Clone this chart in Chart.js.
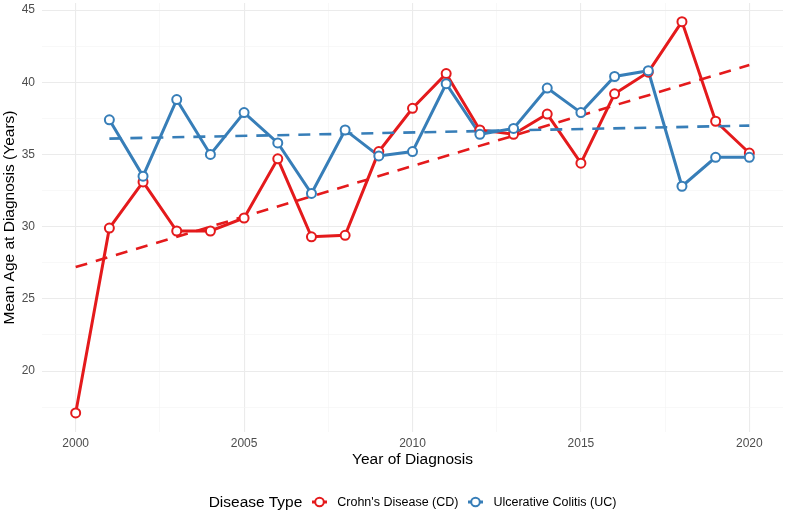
<!DOCTYPE html>
<html>
<head>
<meta charset="utf-8">
<script src="https://cdn.jsdelivr.net/npm/chart.js@4.4.1/dist/chart.umd.min.js"></script>
<style>
  body { margin: 0; background: #fff; font-family: "Liberation Sans", Arial, sans-serif; }
  #wrap { position: relative; width: 786px; height: 514px; }
  #legend {
    position: absolute; left: 39px; right: 0; top: 491px; height: 22px;
    display: flex; justify-content: center; align-items: center;
    color: #000; white-space: nowrap;
  }
  #legend .title { font-size: 15.5px; margin-right: 10px; }
  #legend .item { display: flex; align-items: center; font-size: 12.5px; margin-right: 10px; }
  #legend .item:last-child { margin-right: 0; }
  #legend svg { margin-right: 10px; }
</style>
</head>
<body>
<div id="wrap">
  <canvas id="chart" width="786" height="514"></canvas>
  <div id="legend"></div>
</div>
<script>
// data
const years = [2000, 2001, 2002, 2003, 2004, 2005, 2006, 2007, 2008, 2009, 2010,
               2011, 2012, 2013, 2014, 2015, 2016, 2017, 2018, 2019, 2020];
const cdAge = [17.1, 29.9, 33.1, 29.7, 29.7, 30.6, 34.7, 29.3, 29.4, 35.2, 38.2,
               40.6, 36.7, 36.4, 37.8, 34.4, 39.2, 40.7, 44.2, 37.3, 35.1];
const ucAge = [null, 37.4, 33.5, 38.8, 35.0, 37.9, 35.8, 32.3, 36.7, 34.9, 35.2,
               39.9, 36.4, 36.8, 39.6, 37.9, 40.4, 40.8, 32.8, 34.8, 34.8];

// dashed linear trend endpoints
const cdTrendYears = [2000, 2020];
const cdTrend = [27.2, 41.2];
const ucTrendYears = [2001, 2020];
const ucTrend = [36.1, 37.0];

const xTicks = [2000, 2005, 2010, 2015, 2020];
const yTicks = [20, 25, 30, 35, 40, 45];

const labels = ["Crohn's Disease (CD)", "Ulcerative Colitis (UC)"];
const RED = '#E41A1C';
const BLUE = '#377EB8';

const toXY = (xs, ys) => xs.map((x, i) => ({ x: x, y: ys[i] })).filter(p => p.y !== null);

// major ticks plus minor midpoints, ggplot style
function withMinor(major, lowMinor) {
  const out = lowMinor !== undefined ? [{ value: lowMinor, major: false }] : [];
  major.forEach((v, i) => {
    out.push({ value: v, major: true });
    if (i < major.length - 1) out.push({ value: (v + major[i + 1]) / 2, major: false });
  });
  return out;
}

function lineSet(data, color, order) {
  return {
    data: data, borderColor: color, borderWidth: 3, tension: 0,
    pointRadius: 0, pointHoverRadius: 0, order: order
  };
}
function pointSet(data, color, order) {
  return {
    data: data, showLine: false, pointRadius: 4.5, pointBorderWidth: 2,
    pointBorderColor: color, pointBackgroundColor: '#fff', order: order
  };
}
function trendSet(data, color, order) {
  return {
    data: data, borderColor: color, borderWidth: 2.6, borderDash: [12, 9],
    pointRadius: 0, tension: 0, order: order
  };
}

const cdPts = toXY(years, cdAge);
const ucPts = toXY(years, ucAge);

const gridColor = ctx => ctx.tick && ctx.tick.major ? '#EBEBEB' : '#F3F3F3';
const gridWidth = ctx => ctx.tick && ctx.tick.major ? 1.1 : 0.6;
const noPad = s => { s.paddingTop = 0; s.paddingBottom = 0; s.paddingLeft = 0; s.paddingRight = 0; };
const fontFam = '"Liberation Sans", Arial';

new Chart(document.getElementById('chart'), {
  type: 'line',
  data: {
    datasets: [
      lineSet(cdPts, RED, 6),
      lineSet(ucPts, BLUE, 5),
      pointSet(cdPts, RED, 2),
      pointSet(ucPts, BLUE, 1),
      trendSet(toXY(cdTrendYears, cdTrend), RED, 4),
      trendSet(toXY(ucTrendYears, ucTrend), BLUE, 3)
    ]
  },
  options: {
    responsive: false,
    animation: false,
    layout: { autoPadding: false, padding: { top: 3, right: 3, bottom: 36, left: 0 } },
    plugins: { legend: { display: false }, tooltip: { enabled: false } },
    scales: {
      x: {
        type: 'linear', min: 1999, max: 2021,
        afterBuildTicks: s => { s.ticks = withMinor(xTicks); },
        afterFit: s => { s.height = 46; noPad(s); },
        grid: { color: gridColor, lineWidth: gridWidth, drawTicks: false },
        border: { display: false },
        ticks: {
          padding: 4, color: '#4D4D4D', maxRotation: 0, autoSkip: false,
          font: { family: fontFam, size: 12 },
          callback: (v, i, t) => t[i].major ? String(v) : ''
        },
        title: {
          display: true, text: 'Year of Diagnosis', color: '#000',
          font: { family: fontFam, size: 15.5 },
          padding: { top: 0, bottom: 9 }
        }
      },
      y: {
        min: 15.78, max: 45.49,
        afterBuildTicks: s => { s.ticks = withMinor(yTicks, 17.5); },
        afterFit: s => { s.width = 42; noPad(s); },
        grid: { color: gridColor, lineWidth: gridWidth, drawTicks: false },
        border: { display: false },
        ticks: {
          padding: 7, color: '#4D4D4D', autoSkip: false,
          font: { family: fontFam, size: 12 },
          callback: (v, i, t) => t[i].major ? String(v) : ''
        },
        title: {
          display: true, text: 'Mean Age at Diagnosis (Years)', color: '#000',
          font: { family: fontFam, size: 15.5 },
          padding: { top: 0, bottom: 0 }
        }
      }
    }
  }
});

// legend laid out like ggplot's bottom legend
const legend = document.getElementById('legend');
const icon = c => '<svg width="15" height="12" viewBox="0 0 15 12">' +
  '<line x1="0" y1="6" x2="15" y2="6" stroke="' + c + '" stroke-width="3"/>' +
  '<circle cx="7.5" cy="6" r="4.3" fill="#fff" stroke="' + c + '" stroke-width="2"/></svg>';
legend.innerHTML = '<span class="title">Disease Type</span>' +
  [RED, BLUE].map((c, i) => '<span class="item">' + icon(c) + labels[i] + '</span>').join('');
</script>
</body>
</html>
